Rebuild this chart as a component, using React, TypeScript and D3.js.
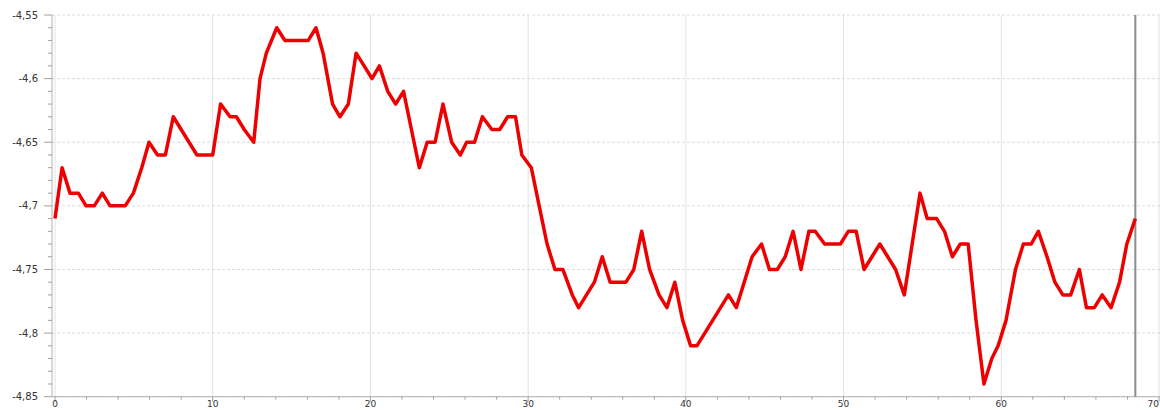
import React from "react";
import * as d3 from "d3";

const xs: number[] = [
  0, 0.45, 0.95, 1.48, 1.97, 2.49, 3.0, 3.49, 4.0, 4.45, 4.97, 5.5, 5.96, 6.5, 7.0, 7.5, 8.0, 8.5, 9.0, 9.5,
  10.0, 10.5, 11.1, 11.5, 12.0, 12.6, 13.0, 13.4, 14.06, 14.58, 15.05, 15.55, 16.06, 16.55, 17.0, 17.6, 18.07, 18.6, 19.09, 19.6,
  20.1, 20.57, 21.1, 21.6, 22.1, 22.6, 23.1, 23.6, 24.1, 24.6, 25.15, 25.7, 26.1, 26.6, 27.1, 27.7, 28.2, 28.7, 29.2, 29.6,
  30.2, 30.7, 31.2, 31.7, 32.2, 32.8, 33.2, 33.7, 34.2, 34.7, 35.2, 35.7, 36.2, 36.7, 37.2, 37.7, 38.3, 38.8, 39.3, 39.8,
  40.3, 40.7, 41.2, 41.7, 42.2, 42.7, 43.2, 43.7, 44.2, 44.8, 45.3, 45.8, 46.3, 46.8, 47.3, 47.8, 48.2, 48.8, 49.3, 49.8,
  50.3, 50.8, 51.3, 51.8, 52.3, 52.8, 53.3, 53.85, 54.35, 54.85, 55.3, 55.9, 56.4, 56.9, 57.4, 57.9, 58.4, 58.9, 59.4, 59.8,
  60.3, 60.9, 61.4, 61.9, 62.35, 62.9, 63.4, 63.9, 64.4, 64.95, 65.4, 65.9, 66.4, 66.96, 67.5, 67.96, 68.5,
];

const ys: number[] = [
  -4.71, -4.67, -4.69, -4.69, -4.7, -4.7, -4.69, -4.7, -4.7, -4.7, -4.69, -4.67, -4.65, -4.66, -4.66, -4.63, -4.64, -4.65, -4.66, -4.66,
  -4.66, -4.62, -4.63, -4.63, -4.64, -4.65, -4.6, -4.58, -4.56, -4.57, -4.57, -4.57, -4.57, -4.56, -4.58, -4.62, -4.63, -4.62, -4.58, -4.59,
  -4.6, -4.59, -4.61, -4.62, -4.61, -4.64, -4.67, -4.65, -4.65, -4.62, -4.65, -4.66, -4.65, -4.65, -4.63, -4.64, -4.64, -4.63, -4.63, -4.66,
  -4.67, -4.7, -4.73, -4.75, -4.75, -4.77, -4.78, -4.77, -4.76, -4.74, -4.76, -4.76, -4.76, -4.75, -4.72, -4.75, -4.77, -4.78, -4.76, -4.79,
  -4.81, -4.81, -4.8, -4.79, -4.78, -4.77, -4.78, -4.76, -4.74, -4.73, -4.75, -4.75, -4.74, -4.72, -4.75, -4.72, -4.72, -4.73, -4.73, -4.73,
  -4.72, -4.72, -4.75, -4.74, -4.73, -4.74, -4.75, -4.77, -4.73, -4.69, -4.71, -4.71, -4.72, -4.74, -4.73, -4.73, -4.79, -4.84, -4.82, -4.81,
  -4.79, -4.75, -4.73, -4.73, -4.72, -4.74, -4.76, -4.77, -4.77, -4.75, -4.78, -4.78, -4.77, -4.78, -4.76, -4.73, -4.71,
];

const xMajorTicks: number[] = [0, 10, 20, 30, 40, 50, 60, 70];
const yMajorTicks: number[] = [-4.55, -4.6, -4.65, -4.7, -4.75, -4.8, -4.85];
const cursorX = 68.5;

export default function App() {
  const W = 1160;
  const H = 410;
  const x = d3.scaleLinear().domain([0, 70]).range([55, 1159]);
  const y = d3.scaleLinear().domain([-4.85, -4.55]).range([396.7, 15]);
  const data = xs.map((v, i) => [v, ys[i]] as [number, number]);
  const line = d3
    .line<[number, number]>()
    .x((d) => x(d[0]))
    .y((d) => y(d[1]));

  const fmt = (v: number) => String(+v.toFixed(2)).replace(".", ",");

  const xMinor = d3.range(0, 71, 2);
  const yMinor = d3.range(0, 31).map((i) => -4.85 + i * 0.01);
  const axisX = 52;
  const axisY = y(-4.85);

  return (
    <svg
      width={W}
      height={H}
      style={{ position: "absolute", left: 0, top: 0, background: "#fff" }}
      fontFamily="DejaVu Sans, sans-serif"
    >
      {xMajorTicks.map((t) => (
        <line key={"vg" + t} x1={x(t)} x2={x(t)} y1={y(-4.55)} y2={axisY} stroke="#e2e2e2" strokeWidth={1} />
      ))}
      {yMajorTicks.map((t) => (
        <line
          key={"hg" + t}
          x1={axisX}
          x2={W}
          y1={y(t)}
          y2={y(t)}
          stroke="#dcdcdc"
          strokeWidth={1}
          strokeDasharray="3,2"
        />
      ))}
      <line x1={axisX} x2={axisX} y1={y(-4.55)} y2={axisY} stroke="#b0b0b0" strokeWidth={1} />
      <line x1={axisX} x2={W} y1={axisY} y2={axisY} stroke="#b0b0b0" strokeWidth={1} />
      {yMinor.map((t, i) => (
        <line key={"ym" + i} x1={axisX - (i % 5 === 0 ? 8 : 4)} x2={axisX} y1={y(t)} y2={y(t)} stroke="#a0a0a0" strokeWidth={1} />
      ))}
      {xMinor.map((t) => (
        <line key={"xm" + t} x1={x(t)} x2={x(t)} y1={axisY} y2={axisY + (t % 10 === 0 ? 5 : 3)} stroke="#a0a0a0" strokeWidth={1} />
      ))}
      {yMajorTicks.map((t) => (
        <text key={"yl" + t} x={38} y={y(t)} textAnchor="end" dominantBaseline="central" fontSize={10} fill="#333">
          {fmt(t)}
        </text>
      ))}
      {xMajorTicks.map((t, i) => (
        <text
          key={"xl" + t}
          x={i === xMajorTicks.length - 1 ? W - 1 : x(t)}
          y={401}
          textAnchor={i === xMajorTicks.length - 1 ? "end" : "middle"}
          dominantBaseline="hanging"
          fontSize={9}
          fill="#333"
        >
          {t}
        </text>
      ))}
      <line x1={x(cursorX)} x2={x(cursorX)} y1={y(-4.55)} y2={axisY} stroke="#8c8c8c" strokeWidth={2} />
      <path d={line(data) || ""} fill="none" stroke="#ee0000" strokeWidth={3.5} strokeLinejoin="round" />
    </svg>
  );
}
